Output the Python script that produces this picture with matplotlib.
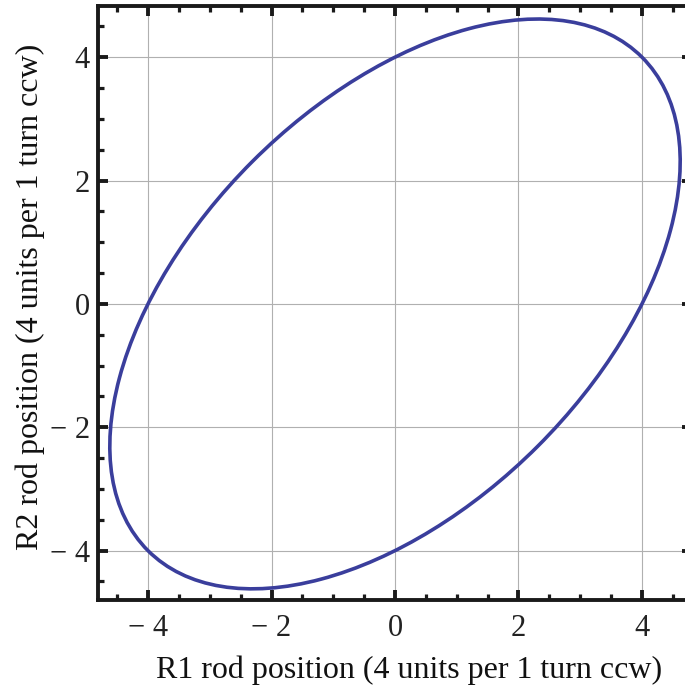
import matplotlib
matplotlib.use("Agg")
import matplotlib.pyplot as plt
from matplotlib.patches import Ellipse
from matplotlib.ticker import FixedLocator, FixedFormatter

# Data: ellipse traced by the two rod positions
center = (0.0, 0.0)
semi_major = 5.657   # along the y = x direction (passes through (4, 4))
semi_minor = 3.266   # along the y = -x direction
angle_deg = 45.0

major_ticks = [-4, -2, 0, 2, 4]
minor_ticks = [-4.5, -3.5, -3, -2.5, -1.5, -1, -0.5, 0.5, 1, 1.5, 2.5, 3, 3.5, 4.5]
tick_labels = ["\u2212 4", "\u2212 2", "0", "2", "4"]
x_label = "R1 rod position (4 units per 1 turn ccw)"
y_label = "R2 rod position (4 units per 1 turn ccw)"
x_limits = (-4.81, 4.81)
y_limits = (-4.80, 4.83)

plt.rcParams["font.family"] = ["Liberation Serif", "DejaVu Serif"]

fig = plt.figure(figsize=(6.85, 6.88), dpi=100)
ax = fig.add_axes([98 / 685, 88 / 688, 594 / 685, 594 / 688])

ax.add_patch(Ellipse(center, 2 * semi_major, 2 * semi_minor, angle=angle_deg,
                     fill=False, edgecolor="#3a3e9c", linewidth=2.6, zorder=3))

ax.set_xlim(*x_limits)
ax.set_ylim(*y_limits)

for axis in (ax.xaxis, ax.yaxis):
    axis.set_major_locator(FixedLocator(major_ticks))
    axis.set_major_formatter(FixedFormatter(tick_labels))
    axis.set_minor_locator(FixedLocator(minor_ticks))

ax.grid(True, which="major", color="#b0b0b0", linewidth=0.8, zorder=0)
ax.set_axisbelow(True)

ax.tick_params(which="major", direction="in", length=7, width=2.8, color="#1a1a1a",
               top=True, right=True, labelsize=22, labelcolor="#222222")
ax.tick_params(which="minor", direction="in", length=4, width=2.3, color="#1a1a1a",
               top=True, right=True)
ax.tick_params(axis="x", which="major", pad=10)
ax.tick_params(axis="y", which="major", pad=6)

for sp in ax.spines.values():
    sp.set_linewidth(2.8)
    sp.set_color("#1a1a1a")

ax.set_xlabel(x_label, fontsize=23, labelpad=8, color="#111111")
ax.set_ylabel(y_label, fontsize=23, labelpad=3, color="#111111")
ax.xaxis.set_label_coords(0.524, -0.093)
ax.yaxis.label.set_y(0.51)

fig.savefig("out.png", dpi=100)
